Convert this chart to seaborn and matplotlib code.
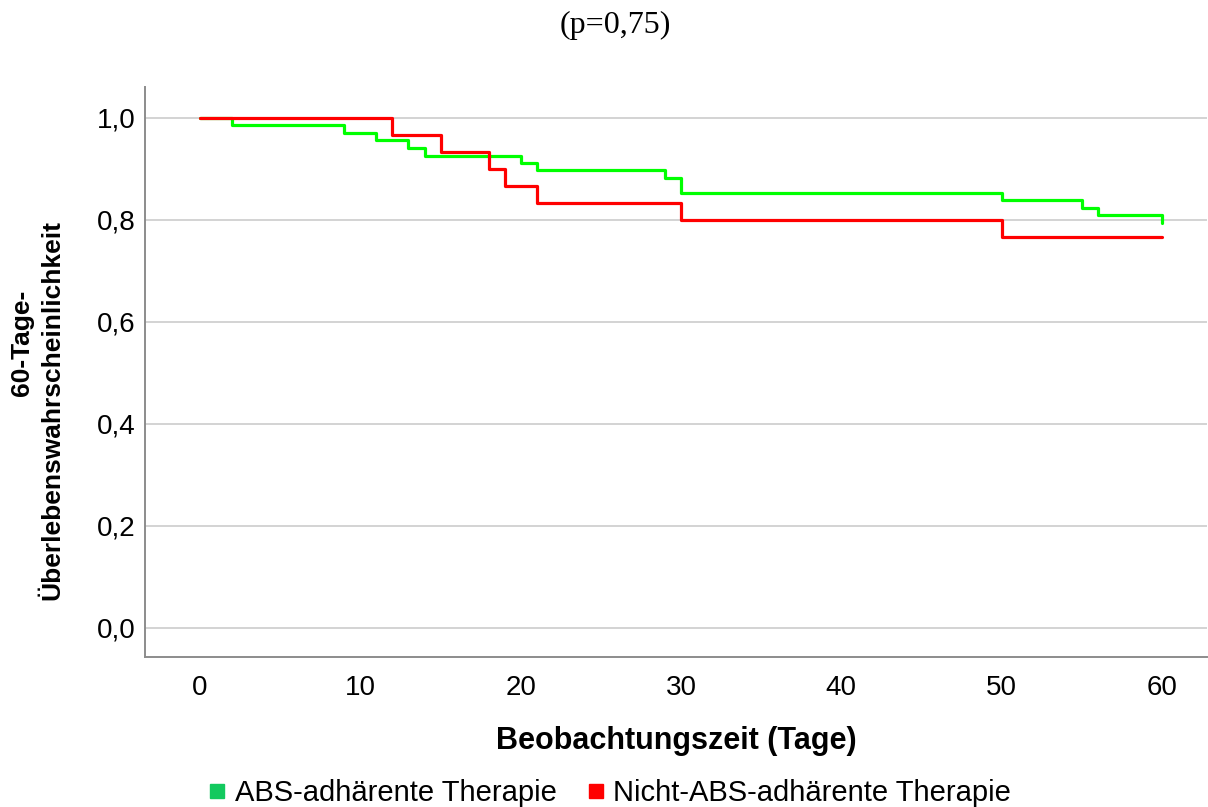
import numpy as np
import pandas as pd
import matplotlib
matplotlib.use("Agg")
import matplotlib.pyplot as plt
from matplotlib.lines import Line2D
import seaborn as sns

# ---- data ----
group_names = ["ABS-adhärente Therapie", "Nicht-ABS-adhärente Therapie"]
green_times = [0, 2, 9, 11, 13, 14, 20, 21, 29, 30, 50, 55, 56, 60]
green_surv = [1.0, 0.985, 0.971, 0.956, 0.941, 0.926, 0.912, 0.897, 0.882, 0.853, 0.838, 0.824, 0.809, 0.794]
red_times = [0, 12, 15, 18, 19, 21, 30, 50, 60]
red_surv = [1.0, 0.967, 0.933, 0.900, 0.867, 0.833, 0.800, 0.767, 0.767]
x_ticks = [0, 10, 20, 30, 40, 50, 60]
y_ticks = [0.0, 0.2, 0.4, 0.6, 0.8, 1.0]
y_tick_labels = ["0,0", "0,2", "0,4", "0,6", "0,8", "1,0"]
title_text = "(p=0,75)"
x_label = "Beobachtungszeit (Tage)"
y_label_lines = ["60-Tage-", "Überlebenswahrscheinlichkeit"]

line_colors = {group_names[0]: "#00FF00", group_names[1]: "#FF0000"}
legend_colors = ["#12C95E", "#FF0000"]

df = pd.concat([
    pd.DataFrame({"t": green_times, "s": green_surv, "g": group_names[0]}),
    pd.DataFrame({"t": red_times, "s": red_surv, "g": group_names[1]}),
], ignore_index=True)

sns.set_theme(style="white")
plt.rcParams["font.family"] = ["Liberation Sans", "DejaVu Sans"]
plt.rcParams["text.color"] = "black"

W, H = 1208, 807
fig = plt.figure(figsize=(W / 100, H / 100), dpi=100)
ax = fig.add_axes([0.120, 0.186, 0.879, 0.706])

sns.lineplot(data=df, x="t", y="s", hue="g", palette=line_colors,
             estimator=None, sort=False, drawstyle="steps-post",
             linewidth=2.3, legend=False, ax=ax, zorder=3)

ax.set_xlim(-3.44, 62.8)
ax.set_ylim(-0.057, 1.06)
ax.set_xticks(x_ticks)
ax.set_xticklabels([str(v) for v in x_ticks])
ax.set_yticks(y_ticks)
ax.set_yticklabels(y_tick_labels)
ax.tick_params(axis="both", length=0, labelsize=20, colors="black")
ax.tick_params(axis="x", pad=13)
ax.tick_params(axis="y", pad=7)
ax.yaxis.grid(True, color="#D0D0D0", linewidth=1.3)
ax.xaxis.grid(False)
for side in ["top", "right"]:
    ax.spines[side].set_visible(False)
for side in ["left", "bottom"]:
    ax.spines[side].set_color("#8C8C8C")
    ax.spines[side].set_linewidth(1.4)

ax.set_xlabel(x_label, fontsize=22, fontweight="bold", labelpad=18, color="black")
ax.set_ylabel("")

fig.text(22 / W, 1 - 343 / H, y_label_lines[0], rotation=90, ha="center", va="center",
         fontsize=19, fontweight="bold")
fig.text(52 / W, 1 - 410 / H, y_label_lines[1], rotation=90, ha="center", va="center",
         fontsize=19, fontweight="bold")

fig.text(615 / W, 1 - 25 / H, title_text, ha="center", va="center",
         fontsize=23, family=["Liberation Serif", "DejaVu Serif"])

handles = [Line2D([0], [0], marker="s", linestyle="none", markersize=9.5,
                  markerfacecolor=c, markeredgecolor=c) for c in legend_colors]
fig.legend(handles, group_names, loc="center", bbox_to_anchor=(607 / W, 1 - 793 / H),
           ncol=2, frameon=False, fontsize=21, handletextpad=0.1,
           columnspacing=0.85, handlelength=1.0)

fig.savefig("out.png", dpi=100)
